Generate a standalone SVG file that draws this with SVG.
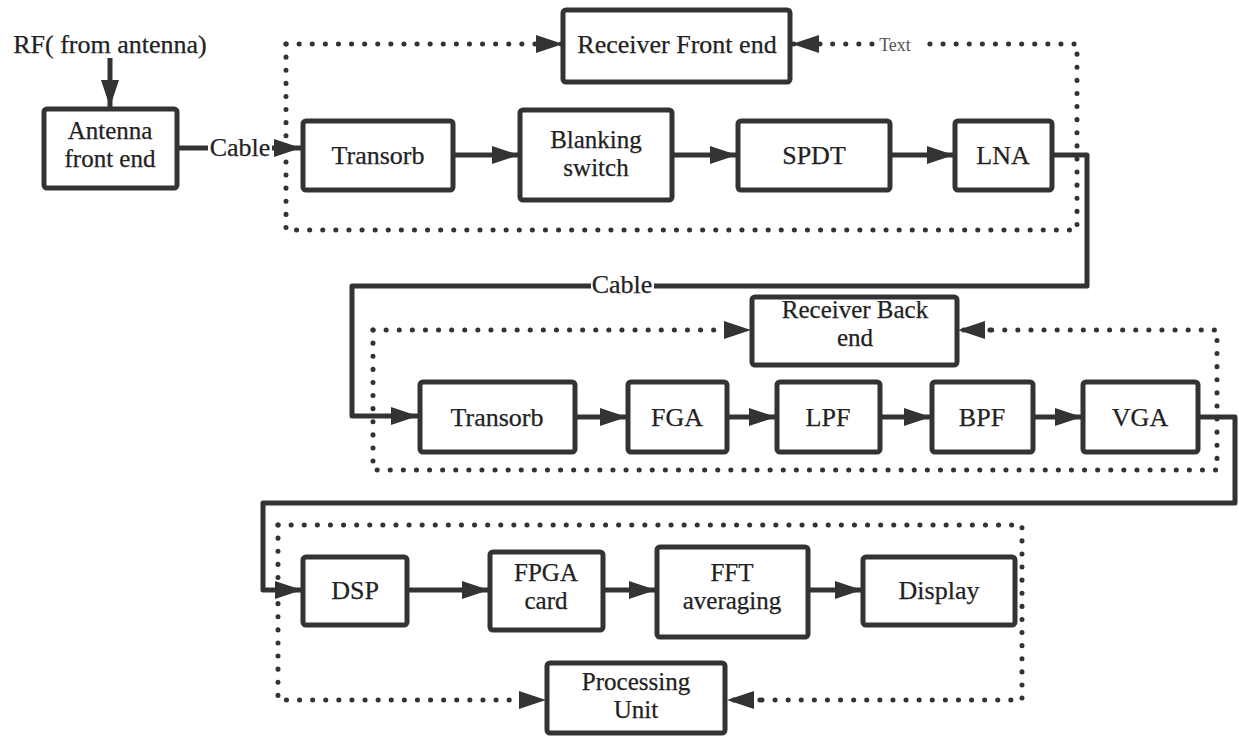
<svg xmlns="http://www.w3.org/2000/svg" width="1239" height="738" viewBox="0 0 1239 738">
<style>
.box{fill:#fff;stroke:#333;stroke-width:5;}
text{font-family:'Liberation Serif','Times New Roman','DejaVu Serif',serif;}
.t{font-size:26px;fill:#222;stroke:#222;stroke-width:0.25;text-anchor:middle;}
.t2{font-size:25px;}
.wire{fill:none;stroke:#333;stroke-width:5;stroke-linejoin:round;}
.dot{fill:none;stroke:#333;stroke-width:5;stroke-dasharray:0.1 13;stroke-linecap:round;}
</style>
<defs>
<marker id="ah" markerUnits="userSpaceOnUse" markerWidth="28" markerHeight="20" refX="27" refY="9" orient="auto">
<path d="M0,0 L27,9 L0,18 z" fill="#333"/>
</marker>
</defs>
<rect width="1239" height="738" fill="#fff"/>
<g id="connectors">
<path class="wire" d="M110,58 V107" marker-end="url(#ah)"/>
<path class="wire" d="M177,148 H208"/>
<path class="wire" d="M272,148 H301" marker-end="url(#ah)"/>
<path class="wire" d="M453,155 H519" marker-end="url(#ah)"/>
<path class="wire" d="M672,155 H737" marker-end="url(#ah)"/>
<path class="wire" d="M890,155 H954" marker-end="url(#ah)"/>
<path class="wire" d="M1052,155 H1087 V286 H352 V416 H418" marker-end="url(#ah)"/>
<path class="wire" d="M575,417 H627" marker-end="url(#ah)"/>
<path class="wire" d="M727,417 H776" marker-end="url(#ah)"/>
<path class="wire" d="M880,417 H931" marker-end="url(#ah)"/>
<path class="wire" d="M1033,417 H1082" marker-end="url(#ah)"/>
<path class="wire" d="M1198,417 H1235 V503 H263 V590 H302" marker-end="url(#ah)"/>
<path class="wire" d="M407,590 H489" marker-end="url(#ah)"/>
<path class="wire" d="M603,590 H656" marker-end="url(#ah)"/>
<path class="wire" d="M808,590 H862" marker-end="url(#ah)"/>
<path class="dot" d="M286,44 V230 H1077 V44 H918"/>
<path class="dot" d="M872,44 H822"/>
<path class="dot" d="M286,44 H563" marker-end="url(#ah)"/>
<path class="dot" d="M820,44 H792" marker-end="url(#ah)"/>
<path class="dot" d="M373,330 V470 H1217 V330 H990"/>
<path class="dot" d="M373,330 H751" marker-end="url(#ah)"/>
<path class="dot" d="M990,330 H958" marker-end="url(#ah)"/>
<path class="dot" d="M278,525 H1022 V700 H760"/>
<path class="dot" d="M278,525 V700 H546" marker-end="url(#ah)"/>
<path class="dot" d="M760,700 H727" marker-end="url(#ah)"/>
<text class="t" x="240" y="156">Cable</text>
<rect x="591" y="276" width="63" height="20" fill="#fff"/>
<text class="t" x="622" y="293">Cable</text>
<text x="895" y="51" style="font-size:18px;fill:#555;text-anchor:middle">Text</text>
<text class="t" x="110" y="53">RF( from antenna)</text>
</g>
<g id="antenna"><rect class="box" x="44" y="109" width="133" height="79" rx="3"/><text class="t t2" x="110" y="139">Antenna</text><text class="t t2" x="110" y="167">front end</text></g>
<g id="rfe"><rect class="box" x="563" y="10" width="227" height="72" rx="3"/><text class="t" x="677" y="53">Receiver Front end</text></g>
<g id="transorb1"><rect class="box" x="303" y="121" width="150" height="69" rx="3"/><text class="t" x="378" y="164">Transorb</text></g>
<g id="blanking"><rect class="box" x="520" y="110" width="152" height="90" rx="3"/><text class="t t2" x="596" y="148">Blanking</text><text class="t t2" x="596" y="176">switch</text></g>
<g id="spdt"><rect class="box" x="738" y="121" width="152" height="69" rx="3"/><text class="t" x="814" y="164">SPDT</text></g>
<g id="lna"><rect class="box" x="955" y="121" width="97" height="69" rx="3"/><text class="t" x="1003" y="164">LNA</text></g>
<g id="rbe"><rect class="box" x="752" y="297" width="205" height="68" rx="3"/><text class="t t2" x="855" y="318">Receiver Back</text><text class="t t2" x="855" y="346">end</text></g>
<g id="transorb2"><rect class="box" x="420" y="382" width="155" height="70" rx="3"/><text class="t" x="497" y="426">Transorb</text></g>
<g id="fga"><rect class="box" x="628" y="382" width="99" height="70" rx="3"/><text class="t" x="677" y="426">FGA</text></g>
<g id="lpf"><rect class="box" x="777" y="382" width="103" height="70" rx="3"/><text class="t" x="828" y="426">LPF</text></g>
<g id="bpf"><rect class="box" x="932" y="382" width="101" height="70" rx="3"/><text class="t" x="982" y="426">BPF</text></g>
<g id="vga"><rect class="box" x="1083" y="382" width="115" height="70" rx="3"/><text class="t" x="1140" y="426">VGA</text></g>
<g id="dsp"><rect class="box" x="303" y="557" width="104" height="68" rx="3"/><text class="t" x="355" y="599">DSP</text></g>
<g id="fpga"><rect class="box" x="490" y="552" width="113" height="78" rx="3"/><text class="t t2" x="546" y="581">FPGA</text><text class="t t2" x="546" y="609">card</text></g>
<g id="fft"><rect class="box" x="657" y="547" width="151" height="90" rx="3"/><text class="t t2" x="732" y="581">FFT</text><text class="t t2" x="732" y="609">averaging</text></g>
<g id="display"><rect class="box" x="863" y="557" width="152" height="68" rx="3"/><text class="t" x="939" y="599">Display</text></g>
<g id="pu"><rect class="box" x="547" y="663" width="178" height="70" rx="3"/><text class="t t2" x="636" y="690">Processing</text><text class="t t2" x="636" y="718">Unit</text></g>
</svg>
